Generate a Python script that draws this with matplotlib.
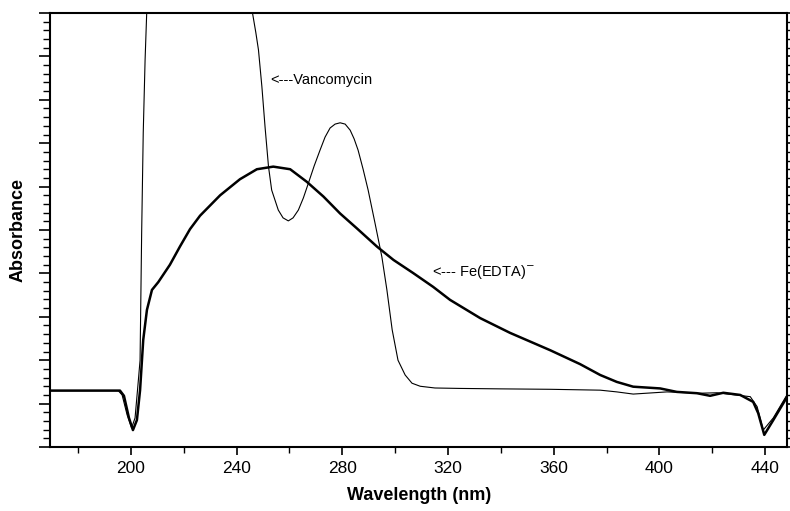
import matplotlib
matplotlib.use("Agg")
import matplotlib.pyplot as plt
from matplotlib.ticker import MultipleLocator, NullFormatter

plt.rcParams["font.family"] = ["Liberation Sans", "DejaVu Sans"]

# ------------------------------------------------------------
# Data (wavelength nm, relative absorbance)
# ------------------------------------------------------------
vanco_nm = [169.6, 195.2, 196.7, 198.6, 200.3, 201.6, 202.7, 203.5, 204.1,
            204.7, 205.4, 206.0, 226.0, 246.1, 247.3, 248.3, 249.6, 250.8,
            252.1, 253.3, 255.8, 257.6, 259.6, 261.4, 263.4, 265.3, 267.2,
            269.4, 271.6, 273.5, 275.4, 277.3, 279.2, 281.1, 283.0, 284.5,
            286.0, 287.9, 289.8, 292.4, 295.0, 296.9, 298.9, 301.1, 303.8,
            306.4, 309.5, 315.1, 324.6, 339.7, 358.7, 377.6, 383.9, 390.1,
            402.9, 415.6, 421.8, 434.4, 437.0, 439.3, 443.1, 447.6, 448.4]
vanco_abs = [0.130, 0.130, 0.120, 0.074, 0.044, 0.067, 0.143, 0.200, 0.493,
             0.724, 0.892, 0.998, 1.800, 0.998, 0.955, 0.915, 0.830, 0.737,
             0.646, 0.592, 0.546, 0.528, 0.521, 0.528, 0.546, 0.574, 0.608,
             0.648, 0.684, 0.714, 0.735, 0.744, 0.747, 0.744, 0.730, 0.710,
             0.684, 0.640, 0.592, 0.516, 0.438, 0.362, 0.270, 0.200, 0.166,
             0.147, 0.140, 0.136, 0.135, 0.134, 0.133, 0.131, 0.127, 0.122,
             0.127, 0.124, 0.125, 0.116, 0.093, 0.039, 0.067, 0.113, 0.120]

fe_nm = [169.6, 195.9, 197.4, 199.3, 200.8, 202.3, 203.5, 204.7, 206.1,
         208.0, 210.4, 214.8, 218.6, 222.4, 226.2, 233.8, 241.3, 247.7,
         253.9, 260.3, 266.6, 272.9, 279.2, 285.5, 293.1, 299.4, 306.8,
         314.4, 320.8, 332.2, 343.5, 358.7, 370.0, 377.6, 383.9, 390.1,
         400.3, 406.6, 414.2, 419.2, 424.2, 430.6, 435.5, 437.4, 439.7,
         443.1, 447.6, 448.4]
fe_abs = [0.130, 0.130, 0.118, 0.067, 0.039, 0.062, 0.131, 0.247, 0.316,
          0.362, 0.380, 0.420, 0.462, 0.502, 0.533, 0.580, 0.617, 0.640,
          0.646, 0.640, 0.611, 0.577, 0.538, 0.504, 0.462, 0.431, 0.401,
          0.369, 0.339, 0.297, 0.263, 0.223, 0.191, 0.166, 0.150, 0.139,
          0.135, 0.127, 0.124, 0.118, 0.125, 0.120, 0.104, 0.078, 0.028,
          0.062, 0.108, 0.118]

x_ticks = [200, 240, 280, 320, 360, 400, 440]

# ------------------------------------------------------------
# Plot
# ------------------------------------------------------------
fig = plt.figure(figsize=(7.9, 5.11), dpi=100)
ax = fig.add_axes([0.0639, 0.1252, 0.9323, 0.8494])

ax.plot(vanco_nm, vanco_abs, color="black", lw=0.8)
ax.plot(fe_nm, fe_abs, color="black", lw=1.8)

ax.set_xlim(169.6, 448.3)
ax.set_ylim(0, 1)

ax.xaxis.set_minor_locator(MultipleLocator(20))
ax.set_xticks(x_ticks)
ax.yaxis.set_major_locator(MultipleLocator(0.1))
ax.yaxis.set_minor_locator(MultipleLocator(0.02))
ax.yaxis.set_major_formatter(NullFormatter())

ax.tick_params(axis="x", which="major", direction="out", length=6, width=1.2,
               labelsize=12.5, pad=4)
ax.tick_params(axis="x", which="minor", direction="out", length=4, width=1.0)
ax.tick_params(axis="y", which="major", direction="out", length=8, width=1.2,
               right=True)
ax.tick_params(axis="y", which="minor", direction="out", length=5, width=1.0,
               right=True)

for side in ["left", "bottom", "top", "right"]:
    ax.spines[side].set_linewidth(1.5)

ax.set_xlabel("Wavelength (nm)", fontsize=13, fontweight="bold", labelpad=8)
fig.text(18 / 790, 1 - 230 / 511, "Absorbance", rotation=90, fontsize=13,
         fontweight="bold", ha="center", va="center")

ax.text(252.7, 0.846, "<---Vancomycin", fontsize=10.5, va="center", ha="left")
ax.text(314.0, 0.404, "<--- Fe(EDTA)$^{-}$", fontsize=10.5, va="center",
        ha="left")

fig.savefig("out.png", dpi=100)
